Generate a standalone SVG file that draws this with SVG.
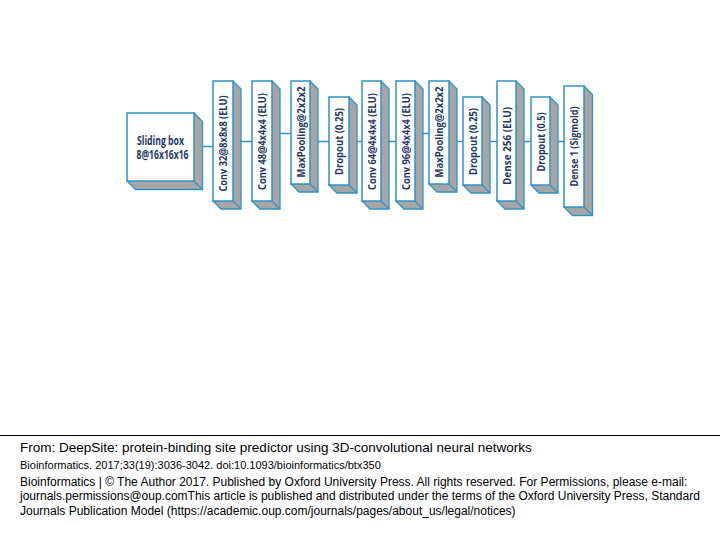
<svg xmlns="http://www.w3.org/2000/svg" width="720" height="540" viewBox="0 0 720 540">
<defs>
<style>
.face{fill:#ffffff;stroke:#2f93c8;stroke-width:1.5}
.side{fill:#a6a6a6;stroke:#2f93c8;stroke-width:1.3;stroke-linejoin:miter}
.edge{stroke:#2f93c8;stroke-width:1.1;fill:none}
.lbl{font-family:"Open Sans",Lato,"Liberation Sans",sans-serif;font-weight:700;font-size:10.5px;fill:#1f3864;text-anchor:middle}
.lbl2{font-family:"Open Sans",Lato,"Liberation Sans",sans-serif;font-weight:700;font-size:11.5px;fill:#1f3864;text-anchor:middle}
.conn line{stroke:#2f93c8;stroke-width:1.5}
.foot{font-family:"Liberation Sans",Arial,sans-serif;fill:#000000}
</style>
</defs>
<rect width="720" height="540" fill="#ffffff"/>

<g id="connectors" class="conn">
<line x1="202" y1="146.5" x2="213" y2="146.5"/>
<line x1="241" y1="141.5" x2="252" y2="141.5"/>
<line x1="280" y1="133.5" x2="291" y2="133.5"/>
<line x1="318" y1="141.5" x2="329" y2="141.5"/>
<line x1="357" y1="141.5" x2="362" y2="141.5"/>
<line x1="389" y1="141.5" x2="396" y2="141.5"/>
<line x1="423" y1="133.5" x2="429" y2="133.5"/>
<line x1="457" y1="141.5" x2="463" y2="141.5"/>
<line x1="490" y1="141.5" x2="497" y2="141.5"/>
<line x1="524" y1="141.5" x2="531" y2="141.5"/>
<line x1="558" y1="141.5" x2="564" y2="141.5"/>
</g>

<g id="sliding-box">
<polygon class="side" points="194,113 202.5,121.5 202.5,189.5 135.5,189.5 127,181"/>
<line class="edge" x1="194" y1="181" x2="202.5" y2="189.5"/>
<rect class="face" x="127" y="113" width="67" height="68"/>
<text class="lbl2" x="160.5" y="145" textLength="47" lengthAdjust="spacingAndGlyphs">Sliding box</text>
<text class="lbl2" x="162.5" y="158.5" textLength="52" lengthAdjust="spacingAndGlyphs">8@16x16x16</text>
</g>

<g id="conv32">
<polygon class="side" points="233,81 241,89 241,209 221,209 213,201"/>
<line class="edge" x1="233" y1="201" x2="241" y2="209"/>
<rect class="face" x="213" y="81" width="20" height="120"/>
<text class="lbl" transform="translate(223,143.5) rotate(-90)" x="0" y="4" textLength="96" lengthAdjust="spacingAndGlyphs">Conv 32@8x8x8 (ELU)</text>
</g>

<g id="conv48">
<polygon class="side" points="272,81 280,89 280,209 260,209 252,201"/>
<line class="edge" x1="272" y1="201" x2="280" y2="209"/>
<rect class="face" x="252" y="81" width="20" height="120"/>
<text class="lbl" transform="translate(262,141.5) rotate(-90)" x="0" y="4" textLength="97" lengthAdjust="spacingAndGlyphs">Conv 48@4x4x4 (ELU)</text>
</g>

<g id="maxpool1">
<polygon class="side" points="310,81 318,89 318,192 299,192 291,184"/>
<line class="edge" x1="310" y1="184" x2="318" y2="192"/>
<rect class="face" x="291" y="81" width="19" height="103"/>
<text class="lbl" transform="translate(300.5,132) rotate(-90)" x="0" y="4" textLength="91" lengthAdjust="spacingAndGlyphs">MaxPooling@2x2x2</text>
</g>

<g id="dropout1">
<polygon class="side" points="349,97 357,105 357,193 337,193 329,185"/>
<line class="edge" x1="349" y1="185" x2="357" y2="193"/>
<rect class="face" x="329" y="97" width="20" height="88"/>
<text class="lbl" transform="translate(339,141.5) rotate(-90)" x="0" y="4" textLength="67" lengthAdjust="spacingAndGlyphs">Dropout (0.25)</text>
</g>

<g id="conv64">
<polygon class="side" points="381,81 389,89 389,209 370,209 362,201"/>
<line class="edge" x1="381" y1="201" x2="389" y2="209"/>
<rect class="face" x="362" y="81" width="19" height="120"/>
<text class="lbl" transform="translate(371.5,141.5) rotate(-90)" x="0" y="4" textLength="97" lengthAdjust="spacingAndGlyphs">Conv 64@4x4x4 (ELU)</text>
</g>

<g id="conv96">
<polygon class="side" points="415,81 423,89 423,209 404,209 396,201"/>
<line class="edge" x1="415" y1="201" x2="423" y2="209"/>
<rect class="face" x="396" y="81" width="19" height="120"/>
<text class="lbl" transform="translate(405.5,141.5) rotate(-90)" x="0" y="4" textLength="97" lengthAdjust="spacingAndGlyphs">Conv 96@4x4x4 (ELU)</text>
</g>

<g id="maxpool2">
<polygon class="side" points="449,81 457,89 457,192 437,192 429,184"/>
<line class="edge" x1="449" y1="184" x2="457" y2="192"/>
<rect class="face" x="429" y="81" width="20" height="103"/>
<text class="lbl" transform="translate(439,132) rotate(-90)" x="0" y="4" textLength="91" lengthAdjust="spacingAndGlyphs">MaxPooling@2x2x2</text>
</g>

<g id="dropout2">
<polygon class="side" points="482,97 490,105 490,193 471,193 463,185"/>
<line class="edge" x1="482" y1="185" x2="490" y2="193"/>
<rect class="face" x="463" y="97" width="19" height="88"/>
<text class="lbl" transform="translate(472.5,141.5) rotate(-90)" x="0" y="4" textLength="67" lengthAdjust="spacingAndGlyphs">Dropout (0.25)</text>
</g>

<g id="dense256">
<polygon class="side" points="516,81 524,89 524,209 505,209 497,201"/>
<line class="edge" x1="516" y1="201" x2="524" y2="209"/>
<rect class="face" x="497" y="81" width="19" height="120"/>
<text class="lbl" transform="translate(506.5,146) rotate(-90)" x="0" y="4" textLength="78" lengthAdjust="spacingAndGlyphs">Dense 256 (ELU)</text>
</g>

<g id="dropout3">
<polygon class="side" points="550,97 558,105 558,193 539,193 531,185"/>
<line class="edge" x1="550" y1="185" x2="558" y2="193"/>
<rect class="face" x="531" y="97" width="19" height="88"/>
<text class="lbl" transform="translate(540.5,142) rotate(-90)" x="0" y="4" textLength="59" lengthAdjust="spacingAndGlyphs">Dropout (0.5)</text>
</g>

<g id="dense1">
<polygon class="side" points="584,86 592.5,94.5 592.5,215.5 572.5,215.5 564,207"/>
<line class="edge" x1="584" y1="207" x2="592.5" y2="215.5"/>
<rect class="face" x="564" y="86" width="20" height="121"/>
<text class="lbl" transform="translate(574,146.5) rotate(-90)" x="0" y="4" textLength="80" lengthAdjust="spacingAndGlyphs">Dense 1 (Sigmoid)</text>
</g>

<g id="footer">
<line x1="0" y1="435.5" x2="720" y2="435.5" stroke="#000000" stroke-width="1"/>
<text class="foot" x="20" y="452" font-size="13.5">From: DeepSite: protein-binding site predictor using 3D-convolutional neural networks</text>
<text class="foot" x="20" y="469" font-size="11">Bioinformatics. 2017;33(19):3036-3042. doi:10.1093/bioinformatics/btx350</text>
<text class="foot" x="20" y="485.5" font-size="12">Bioinformatics | © The Author 2017. Published by Oxford University Press. All rights reserved. For Permissions, please e-mail:</text>
<text class="foot" x="20" y="500" font-size="12">journals.permissions@oup.comThis article is published and distributed under the terms of the Oxford University Press, Standard</text>
<text class="foot" x="20" y="514.5" font-size="12">Journals Publication Model (https://academic.oup.com/journals/pages/about_us/legal/notices)</text>
</g>
</svg>
